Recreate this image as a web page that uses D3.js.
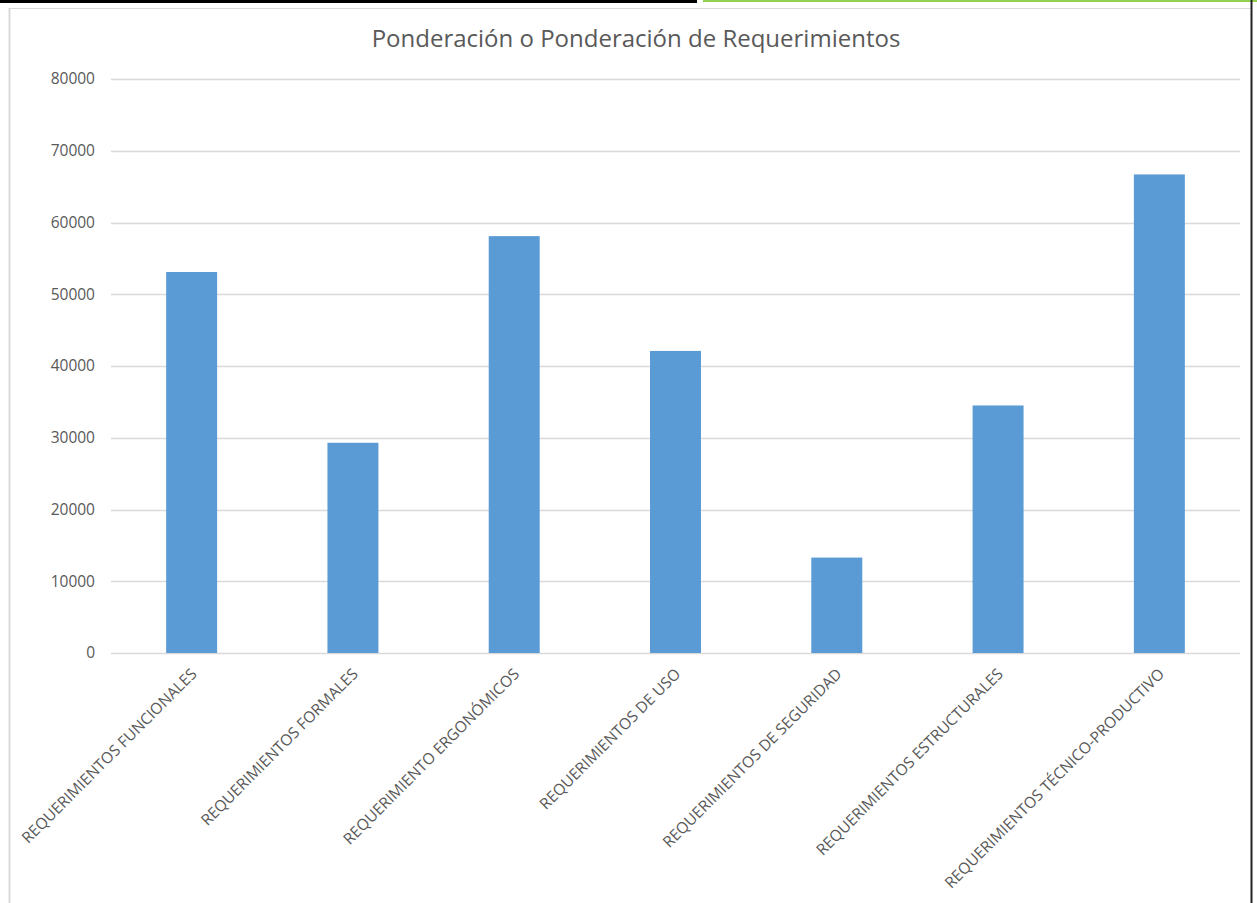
<!DOCTYPE html>
<html>
<head>
<meta charset="utf-8">
<script src="https://cdn.jsdelivr.net/npm/d3@7"></script>
<style>
	body { margin: 0; background: #fff; }
	text { font-family: "Open Sans", "Noto Sans", sans-serif; }
</style>
</head>
<body>
<div id="chart"></div>
<script>
// datos
var categorias = [
	"REQUERIMIENTOS FUNCIONALES",
	"REQUERIMIENTOS FORMALES",
	"REQUERIMIENTO ERGONÓMICOS",
	"REQUERIMIENTOS DE USO",
	"REQUERIMIENTOS DE SEGURIDAD",
	"REQUERIMIENTOS ESTRUCTURALES",
	"REQUERIMIENTOS TÉCNICO-PRODUCTIVO"
];
var valores = [53100, 29300, 58100, 42100, 13300, 34500, 66700];
var ticksY = [0, 10000, 20000, 30000, 40000, 50000, 60000, 70000, 80000];
var titulo = "Ponderación o Ponderación de Requerimientos";

var W = 1257, H = 903;
var margin = { top: 79, right: 17, bottom: 250, left: 111 },
	width = W - margin.left - margin.right,
	height = H - margin.top - margin.bottom;

var svgRoot = d3.select("#chart")
	.append("svg")
	.attr("width", W)
	.attr("height", H);

// bordes del recorte
svgRoot.append("rect").attr("x", 0).attr("y", 0).attr("width", 697).attr("height", 3).attr("fill", "#000");
svgRoot.append("rect").attr("x", 703).attr("y", 0).attr("width", 554).attr("height", 2).attr("fill", "#92d050");
svgRoot.append("line").attr("x1", 9).attr("x2", 1250).attr("y1", 8.5).attr("y2", 8.5).attr("stroke", "#d9d9d9");
svgRoot.append("line").attr("x1", 9.5).attr("x2", 9.5).attr("y1", 8).attr("y2", H).attr("stroke", "#d9d9d9").attr("stroke-width", 2);
svgRoot.append("line").attr("x1", 1251.5).attr("x2", 1251.5).attr("y1", 0).attr("y2", H).attr("stroke", "#222").attr("stroke-width", 2);

svgRoot.append("text")
	.attr("x", 636)
	.attr("y", 47)
	.attr("text-anchor", "middle")
	.style("font-size", "24px")
	.style("fill", "#595959")
	.text(titulo);

var svg = svgRoot.append("g")
	.attr("transform", "translate(" + margin.left + "," + margin.top + ")");

var x = d3.scaleBand()
	.range([0, width])
	.domain(categorias)
	.paddingInner(0.684)
	.paddingOuter(0.342);

var y = d3.scaleLinear()
	.domain([0, 80000])
	.range([height, 0]);

// lineas de division
svg.append("g")
	.selectAll("line")
	.data(ticksY)
	.enter()
	.append("line")
	.attr("x1", 0)
	.attr("x2", width)
	.attr("y1", function (d) { return Math.round(y(d)) + 0.5; })
	.attr("y2", function (d) { return Math.round(y(d)) + 0.5; })
	.attr("stroke", "#d9d9d9")
	.attr("stroke-width", 1.5);

var yAxis = svg.append("g")
	.call(d3.axisLeft(y).tickValues(ticksY).tickSize(0).tickPadding(16).tickFormat(d3.format("d")));
yAxis.select(".domain").remove();
yAxis.selectAll("text")
	.style("font-size", "15.5px")
	.style("fill", "#595959")
	.style("font-family", "'Open Sans', sans-serif");

svg.selectAll("rect.bar")
	.data(valores)
	.enter()
	.append("rect")
	.attr("class", "bar")
	.attr("x", function (d, i) { return x(categorias[i]); })
	.attr("width", x.bandwidth())
	.attr("y", function (d) { return y(d); })
	.attr("height", function (d) { return height - y(d); })
	.attr("fill", "#5b9bd5");

var xAxis = svg.append("g")
	.attr("transform", "translate(0," + height + ")")
	.call(d3.axisBottom(x).tickSize(0).tickPadding(0));
xAxis.select(".domain").remove();
xAxis.selectAll("text")
	.attr("text-anchor", "end")
	.attr("dy", null)
	.attr("y", 0)
	.attr("transform", "translate(6,22) rotate(-45)")
	.style("font-size", "15.5px")
	.style("fill", "#595959")
	.style("font-family", "'Open Sans', sans-serif");
</script>
</body>
</html>
